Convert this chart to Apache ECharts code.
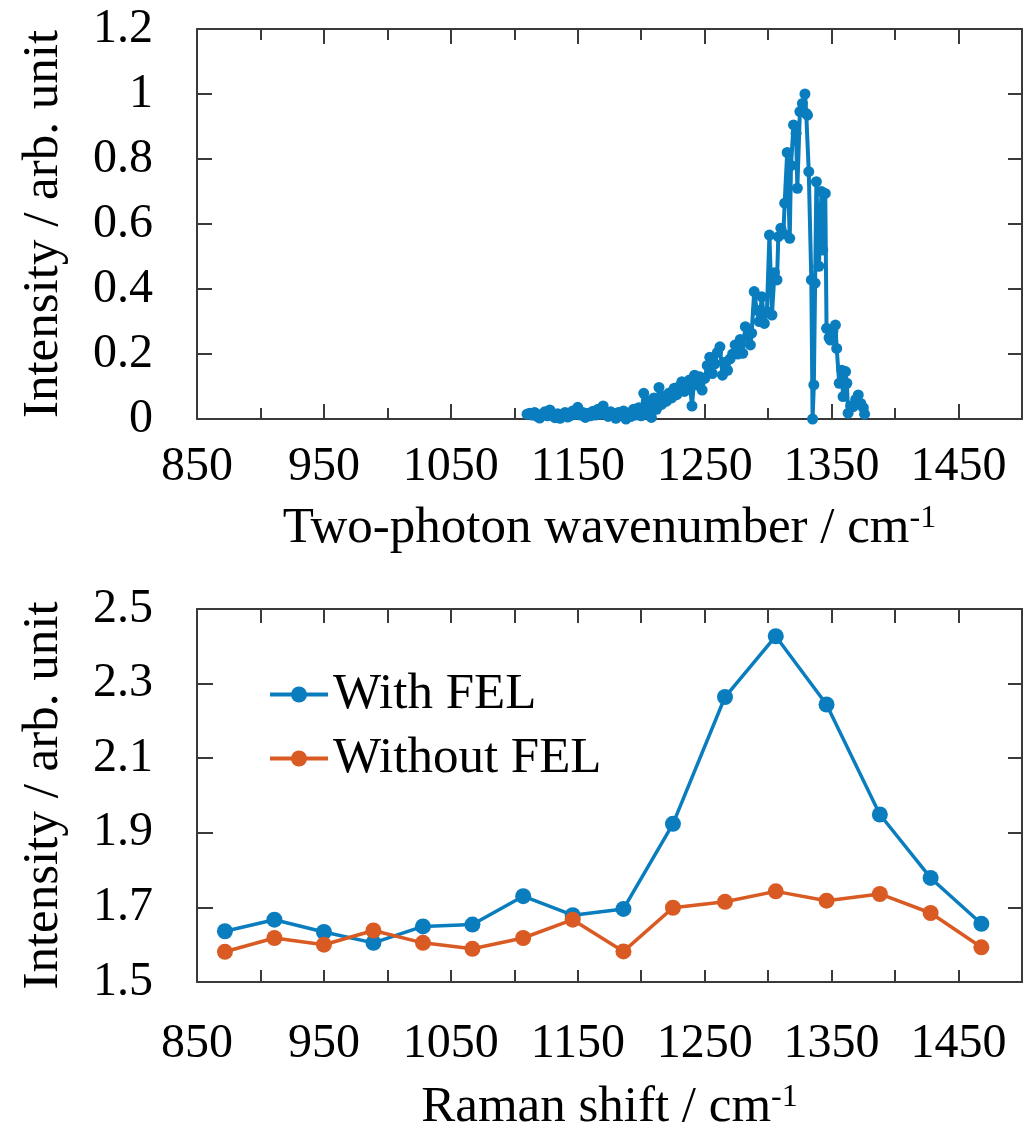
<!DOCTYPE html>
<html><head><meta charset="utf-8">
<script src="https://cdn.jsdelivr.net/npm/echarts@6/dist/echarts.min.js"></script>
<style>html,body{margin:0;padding:0;background:#fff}#c{width:1026px;height:1135px}</style>
</head><body><div id="c"></div>
<script>
// ---- Data ----
const topWavenumber = [1110,1112,1114,1116,1118,1120,1122,1124,1126,1128,1130,1132,1134,1136,1138,1140,1142,1144,1146,1148,
  1150,1152,1154,1156,1158,1160,1162,1164,1166,1168,1170,1172,1174,1176,1178,1180,1182,1184,1186,1188,
  1190,1192,1194,1196,1198,1200,1202,1204,1206,1208,1210,1212,1214,1216,1218,1220,1222,1224,1226,1228,
  1230,1232,1234,1236,1238,1240,1242,1244,1246,1248,1250,1252,1254,1256,1258,1260,1262,1264,1266,1268,
  1270,1272,1274,1276,1278,1280,1282,1284,1286,1287,1289,1291,1293,1295,1297,1299,1301,1303,1305,1307,
  1308,1310,1312,1313,1315,1317,1318,1320,1322,1323,1325,1327,1329,1330,1331,1332,1334,1335,1336,1337,
  1338,1340,1342,1343,1345,1346,1348,1349,1351,1353,1354,1356,1358,1359,1361,1362,1363,1365,1367,1369,
  1371,1373,1375,1376];
const topIntensity = [0.015,0.018,0.012,0.020,0.008,0.003,0.015,0.022,0.010,0.028,0.012,0.004,0.016,0.002,0.014,0.020,0.006,0.010,0.025,0.015,
  0.036,0.012,0.020,0.005,0.018,0.010,0.024,0.012,0.030,0.015,0.040,0.018,0.008,0.022,0.012,0.002,0.020,0.010,0.025,0.000,
  0.018,0.008,0.030,0.012,0.035,0.010,0.079,0.025,0.055,0.005,0.065,0.030,0.097,0.045,0.070,0.055,0.080,0.065,0.095,0.075,
  0.100,0.115,0.085,0.105,0.120,0.040,0.135,0.105,0.130,0.089,0.125,0.165,0.190,0.140,0.170,0.205,0.222,0.135,0.175,0.150,
  0.185,0.200,0.228,0.200,0.245,0.202,0.284,0.255,0.228,0.264,0.392,0.335,0.300,0.376,0.294,0.330,0.566,0.320,0.450,0.428,
  0.561,0.587,0.570,0.664,0.820,0.556,0.780,0.905,0.879,0.710,0.946,0.971,1.000,0.940,0.935,0.761,0.428,0.000,0.105,0.418,
  0.730,0.470,0.700,0.520,0.694,0.279,0.250,0.243,0.270,0.289,0.217,0.110,0.150,0.069,0.146,0.110,0.018,0.040,0.038,0.060,
  0.074,0.048,0.035,0.015];

const ramanShift = [872, 911, 950, 989, 1028, 1067, 1107, 1146, 1186, 1225, 1266, 1306, 1346, 1388, 1428, 1468];
const withFEL    = [1.636, 1.667, 1.634, 1.605, 1.649, 1.654, 1.730, 1.679, 1.696, 1.924, 2.264, 2.427, 2.244, 1.949, 1.779, 1.656];
const withoutFEL = [1.581, 1.618, 1.600, 1.638, 1.605, 1.589, 1.618, 1.667, 1.582, 1.699, 1.715, 1.743, 1.718, 1.736, 1.685, 1.593];

const xLabelValues = [850, 950, 1050, 1150, 1250, 1350, 1450];
const xMinorValues = [900, 1000, 1100, 1200, 1300, 1400];
const xAllValues   = [850, 900, 950, 1000, 1050, 1100, 1150, 1200, 1250, 1300, 1350, 1400, 1450];
const topYTicks    = [0, 0.2, 0.4, 0.6, 0.8, 1, 1.2];
const bottomYTicks = [1.5, 1.7, 1.9, 2.1, 2.3, 2.5];
const seriesNames  = ['With FEL', 'Without FEL'];

// ---- Styling ----
const FONT = 'Liberation Serif';
const AX = '#3a3a3a';
const BLUE = '#0a7dbf';
const ORANGE = '#d95a22';
const axLine = {show: true, lineStyle: {color: AX, width: 2}};
const tickLS = {color: AX, width: 2};
const plain = v => String(v);
const labelStyle = {fontFamily: FONT, fontSize: 48, color: '#000', formatter: plain};
const nameStyle = {fontFamily: FONT, fontSize: 51, color: '#000',
  rich: {sup: {fontFamily: FONT, fontSize: 32, color: '#000', verticalAlign: 'top', lineHeight: 32}}};

function xBase(grid, pos) {
  return {type: 'value', gridIndex: grid, position: pos, min: 850, max: 1500,
    splitLine: {show: false}, axisLine: {show: false}, axisLabel: {show: false},
    axisTick: {show: false}};
}
function yBase(grid, pos, min, max) {
  return {type: 'value', gridIndex: grid, position: pos, min: min, max: max,
    splitLine: {show: false}, axisLine: {show: false}, axisLabel: {show: false},
    axisTick: {show: false}};
}

const xAxis = [
  Object.assign(xBase(0, 'bottom'), {axisLine: axLine,
    axisTick: {show: true, inside: true, length: 15, customValues: xLabelValues, lineStyle: tickLS},
    axisLabel: Object.assign({show: true, customValues: xLabelValues, margin: 24}, labelStyle),
    name: 'Two-photon wavenumber / cm{sup|-1}', nameLocation: 'middle', nameGap: 84, nameTextStyle: nameStyle}),
  Object.assign(xBase(0, 'bottom'), {
    axisTick: {show: true, inside: true, length: 11, customValues: xMinorValues, lineStyle: tickLS}}),
  Object.assign(xBase(0, 'top'), {axisLine: axLine,
    axisTick: {show: true, inside: true, length: 15, customValues: xLabelValues, lineStyle: tickLS}}),
  Object.assign(xBase(0, 'top'), {
    axisTick: {show: true, inside: true, length: 11, customValues: xMinorValues, lineStyle: tickLS}}),
  Object.assign(xBase(1, 'bottom'), {axisLine: axLine,
    axisTick: {show: true, inside: true, length: 12, customValues: xAllValues, lineStyle: tickLS},
    axisLabel: Object.assign({show: true, customValues: xLabelValues, margin: 38}, labelStyle),
    name: 'Raman shift / cm{sup|-1}', nameLocation: 'middle', nameGap: 100, nameTextStyle: nameStyle}),
  Object.assign(xBase(1, 'top'), {axisLine: axLine,
    axisTick: {show: true, inside: true, length: 14, customValues: xAllValues, lineStyle: tickLS}})
];

const yAxis = [
  Object.assign(yBase(0, 'left', 0, 1.2), {axisLine: axLine,
    axisTick: {show: true, inside: true, length: 15, customValues: topYTicks, lineStyle: tickLS},
    axisLabel: Object.assign({show: true, customValues: topYTicks, margin: 44}, labelStyle),
    name: 'Intensity / arb. unit', nameLocation: 'middle', nameRotate: 90, nameGap: 128, nameTextStyle: nameStyle}),
  Object.assign(yBase(0, 'right', 0, 1.2), {axisLine: axLine,
    axisTick: {show: true, inside: true, length: 14, customValues: topYTicks, lineStyle: tickLS}}),
  Object.assign(yBase(1, 'left', 1.5, 2.5), {axisLine: axLine,
    axisTick: {show: true, inside: true, length: 16, customValues: bottomYTicks, lineStyle: tickLS},
    axisLabel: Object.assign({show: true, customValues: bottomYTicks, margin: 44}, labelStyle),
    name: 'Intensity / arb. unit', nameLocation: 'middle', nameRotate: 90, nameGap: 128, nameTextStyle: nameStyle}),
  Object.assign(yBase(1, 'right', 1.5, 2.5), {axisLine: axLine,
    axisTick: {show: true, inside: true, length: 14, customValues: bottomYTicks, lineStyle: tickLS}})
];

const option = {
  animation: false,
  backgroundColor: '#fff',
  grid: [
    {left: 197, right: 4, top: 29, height: 390, containLabel: false},
    {left: 197, right: 4, top: 609, height: 373, containLabel: false}
  ],
  xAxis: xAxis,
  yAxis: yAxis,
  legend: {
    data: seriesNames, orient: 'vertical', left: 263, top: 664,
    itemWidth: 58, itemHeight: 20, itemGap: 13,
    lineStyle: {width: 4},
    textStyle: {fontFamily: FONT, fontSize: 51, color: '#000', lineHeight: 51}
  },
  series: [
    {type: 'line', name: 'Two-photon', xAxisIndex: 0, yAxisIndex: 0,
      data: topWavenumber.map((x, i) => [x, topIntensity[i]]),
      symbol: 'circle', symbolSize: 11, showAllSymbol: true,
      lineStyle: {color: BLUE, width: 4}, itemStyle: {color: BLUE}, z: 3},
    {type: 'line', name: seriesNames[0], xAxisIndex: 4, yAxisIndex: 2,
      data: ramanShift.map((x, i) => [x, withFEL[i]]),
      symbol: 'circle', symbolSize: 16,
      lineStyle: {color: BLUE, width: 3.5}, itemStyle: {color: BLUE}},
    {type: 'line', name: seriesNames[1], xAxisIndex: 4, yAxisIndex: 2,
      data: ramanShift.map((x, i) => [x, withoutFEL[i]]),
      symbol: 'circle', symbolSize: 16,
      lineStyle: {color: ORANGE, width: 3.5}, itemStyle: {color: ORANGE}}
  ]
};
const chart = echarts.init(document.getElementById('c'), null, {renderer: 'canvas'});
chart.setOption(option);
</script>
</body></html>
